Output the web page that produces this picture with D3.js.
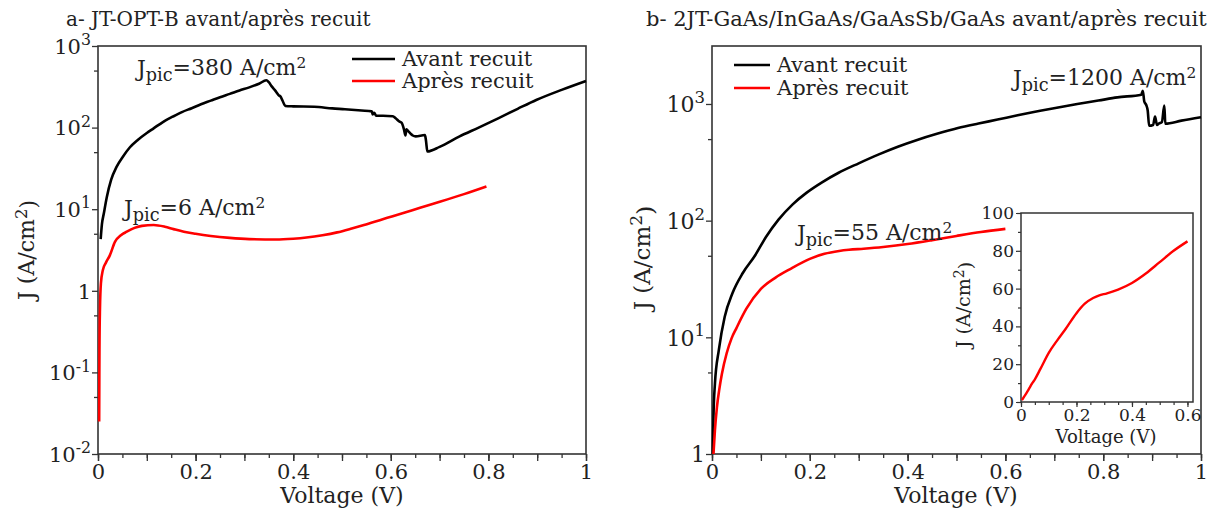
<!DOCTYPE html>
<html><head><meta charset="utf-8">
<script src="https://cdn.jsdelivr.net/npm/d3@7"></script>
<style>
body{margin:0;background:#fff;}
svg text{font-family:"DejaVu Serif",serif;fill:#222;}
</style></head>
<body><svg id="c" width="1223" height="512"></svg>
<script>
// ---------- data ----------
const xTicks = [0, 0.2, 0.4, 0.6, 0.8, 1];
const xTickLabels = ["0", "0.2", "0.4", "0.6", "0.8", "1"];
const yTicksA = [1e-2, 1e-1, 1, 1e1, 1e2, 1e3];
const yTickLabelsA = [["10","-2"], ["10","-1"], ["1",""], ["10","1"], ["10","2"], ["10","3"]];
const yTicksB = [1, 1e1, 1e2, 1e3];
const yTickLabelsB = [["1",""], ["10","1"], ["10","2"], ["10","3"]];
const insetXTicks = [0, 0.2, 0.4, 0.6];
const insetXTickLabels = ["0", "0.2", "0.4", "0.6"];
const insetYTicks = [0, 20, 40, 60, 80, 100];

// panel a - avant recuit
const avantV_a = [0.0055,0.008,0.012,0.018,0.027,0.038,0.051,0.065,0.082,0.1,0.114,0.133,0.153,0.172,0.192,0.211,0.231,0.25,0.27,0.29,0.31,0.33,0.345,0.35,0.356,0.362,0.366,0.37,0.374,0.378,0.384,0.40,0.443,0.48,0.506,0.54,0.561,0.563,0.566,0.57,0.584,0.604,0.61,0.618,0.622,0.627,0.63,0.632,0.636,0.64,0.645,0.651,0.67,0.672,0.675,0.70,0.741,0.78,0.82,0.86,0.898,0.95,1.0];
const avantJ_a = [4.3,6.5,8.9,14,23,33,44,57,71,86,98,117,136,155,173,193,214,236,259,285,311,345,380,360,320,290,270,250,240,215,184,182,180,172,168,162,158,145,152,140,140,138,130,118,115,95,80,95,90,85,80,78,81,70,51,58,78,100,130,170,218,290,373];
// panel a - après recuit
const apresV_a = [0.0024,0.0027,0.003,0.004,0.006,0.01,0.016,0.024,0.035,0.047,0.059,0.075,0.09,0.114,0.137,0.155,0.176,0.2,0.231,0.27,0.31,0.365,0.4,0.427,0.46,0.49,0.52,0.545,0.585,0.624,0.66,0.702,0.75,0.796];
const apresJ_a = [0.025,0.074,0.19,0.59,1.24,1.8,2.2,2.7,4.0,4.8,5.3,5.9,6.25,6.4,6.1,5.7,5.3,5.0,4.7,4.45,4.3,4.25,4.35,4.5,4.8,5.2,5.8,6.4,7.6,8.9,10.4,12.4,15.3,19];
// panel b - avant recuit
const avantV_b = [0.0016,0.003,0.006,0.014,0.026,0.042,0.063,0.087,0.11,0.136,0.165,0.193,0.225,0.258,0.3,0.34,0.38,0.421,0.46,0.503,0.545,0.584,0.625,0.666,0.705,0.747,0.79,0.829,0.878,0.881,0.884,0.888,0.891,0.894,0.902,0.906,0.91,0.914,0.92,0.925,0.927,0.96,1.0];
const avantJ_b = [1,2.1,4,7.8,15,24,35.6,49.5,72,102,138,173,213,256,310,368,430,494,555,622,680,735,800,865,930,1000,1070,1140,1202,1300,1050,980,880,650,660,780,660,680,700,968,678,720,769];
// panel b - après recuit (also inset)
const apresV_b = [0.003,0.006,0.01,0.015,0.02,0.03,0.04,0.05,0.07,0.1,0.13,0.16,0.2,0.23,0.26,0.28,0.31,0.35,0.4,0.45,0.5,0.55,0.6];
const apresJ_b = [1,1.6,2.5,3.6,4.8,7.3,9.8,12,17.5,26,32.5,38.5,47,52,55,56.3,57.5,59.5,63,68,74,80,85];

// ---------- drawing ----------
const svg = d3.select("#c");
svg.append("rect").attr("width",1223).attr("height",512).attr("fill","#fff");
const AX = "#333";

function zip(v, j){ return v.map((d,i)=>[d, j[i]]); }

function logPanel(cfg){
  const x = d3.scaleLinear().domain([0,1]).range([cfg.x0, cfg.x1]);
  const y = d3.scaleLog().domain(cfg.yDomain).range([cfg.y1, cfg.y0]);
  const g = svg.append("g");
  const minorX = d3.range(0, 1.0001, 0.05).map(d=>+d.toFixed(2));
  g.append("g").attr("transform",`translate(0,${cfg.y1})`)
    .call(d3.axisBottom(x).tickValues(minorX).tickSize(4).tickFormat("").tickSizeOuter(0))
    .call(s=>s.select(".domain").remove());
  g.append("g").attr("transform",`translate(0,${cfg.y1})`)
    .call(d3.axisBottom(x).tickValues(d3.range(0,1.0001,0.1).map(d=>+d.toFixed(1))).tickSize(7).tickFormat("").tickSizeOuter(0))
    .call(s=>s.select(".domain").remove());
  const xa = g.append("g").attr("transform",`translate(0,${cfg.y1})`)
    .call(d3.axisBottom(x).tickValues(xTicks).tickSize(7).tickPadding(3).tickFormat((d,i)=>xTickLabels[i]).tickSizeOuter(0));
  xa.select(".domain").remove();
  xa.selectAll("text").attr("font-size",cfg.xFont).attr("fill","#222").attr("font-family","DejaVu Serif");
  g.append("g").attr("transform",`translate(${cfg.x0},0)`)
    .call(d3.axisLeft(y).tickValues(cfg.minorY).tickSize(4).tickFormat("").tickSizeOuter(0))
    .call(s=>s.select(".domain").remove());
  const ya = g.append("g").attr("transform",`translate(${cfg.x0},0)`)
    .call(d3.axisLeft(y).tickValues(cfg.yTicks).tickSize(6).tickPadding(2).tickFormat("").tickSizeOuter(0));
  ya.select(".domain").remove();
  ya.selectAll(".tick").each(function(d,i){
    const lab = cfg.yLabels[i];
    const t = d3.select(this).append("text").attr("x",-7).attr("dy","0.35em")
      .attr("text-anchor","end").attr("font-size",cfg.yFont).attr("fill","#222");
    t.append("tspan").text(lab[0]);
    if(lab[1]) t.append("tspan").attr("dy","-0.55em").attr("font-size",cfg.yFont*0.75).text(lab[1]);
  });
  g.selectAll(".tick line").attr("stroke",AX).attr("stroke-width",1.3);
  g.append("rect").attr("x",cfg.x0).attr("y",cfg.y0).attr("width",cfg.x1-cfg.x0).attr("height",cfg.y1-cfg.y0)
    .attr("fill","none").attr("stroke",AX).attr("stroke-width",1.6);
  const line = d3.line().curve(d3.curveMonotoneX).x(d=>x(d[0])).y(d=>y(d[1]));
  g.append("path").datum(zip(cfg.blackV,cfg.blackJ)).attr("d",line).attr("fill","none").attr("stroke","#000").attr("stroke-width",2.6).attr("stroke-linejoin","round");
  g.append("path").datum(zip(cfg.redV,cfg.redJ)).attr("d",line).attr("fill","none").attr("stroke","#f00").attr("stroke-width",2.6).attr("stroke-linejoin","round");
  return {x,y,g};
}

logPanel({x0:98,x1:586,y0:46,y1:454,yDomain:[1e-2,1e3],yTicks:yTicksA,yLabels:yTickLabelsA,
  minorY:[5e-2,5e-1,5,50,500],yFont:21,xFont:21,
  blackV:avantV_a,blackJ:avantJ_a,redV:apresV_a,redJ:apresJ_a});
logPanel({x0:712,x1:1201,y0:46,y1:454,yDomain:[1,3140],yTicks:yTicksB,yLabels:yTickLabelsB,
  minorY:[5,50,500],yFont:22,xFont:21,
  blackV:avantV_b,blackJ:avantJ_b,redV:apresV_b,redJ:apresJ_b});

function txt(x,y,s,size,anchor){ return svg.append("text").attr("x",x).attr("y",y).attr("font-size",size).attr("text-anchor",anchor||"start").text(s); }
function jpic(x,y,val,size){
  const t = svg.append("text").attr("x",x).attr("y",y).attr("font-size",size);
  t.append("tspan").text("J");
  t.append("tspan").attr("dy","0.3em").attr("font-size",size*0.8).text("pic");
  t.append("tspan").attr("dy","-0.3em").text("=" + val + " A/cm");
  t.append("tspan").attr("dy","-0.45em").attr("font-size",size*0.7).text("2");
}
function yTitle(cx,cy,size){
  const t = svg.append("text").attr("transform",`translate(${cx},${cy}) rotate(-90)`).attr("text-anchor","middle").attr("font-size",size);
  t.append("tspan").text("J (A/cm");
  t.append("tspan").attr("dy","-0.45em").attr("font-size",size*0.75).text("2");
  t.append("tspan").attr("dy","0.45em").text(")");
}
function legend(x,y,size,gap,len){
  svg.append("line").attr("x1",x).attr("x2",x+len).attr("y1",y).attr("y2",y).attr("stroke","#000").attr("stroke-width",2.6);
  svg.append("line").attr("x1",x).attr("x2",x+len).attr("y1",y+gap).attr("y2",y+gap).attr("stroke","#f00").attr("stroke-width",2.6);
  txt(x+len+7,y+7,"Avant recuit",size);
  txt(x+len+7,y+gap+7,"Après recuit",size);
}

txt(66,26,"a- JT-OPT-B avant/après recuit",20);
txt(646,26,"b- 2JT-GaAs/InGaAs/GaAsSb/GaAs avant/après recuit",21);
jpic(137,76,"380",22);
jpic(124,216,"6",22);
jpic(1013,86,"1200",22);
jpic(797,241,"55",22);
legend(352,59,21,22,43);
legend(734,65,21,23,36);
yTitle(34,250,22);
yTitle(650,258,23);
txt(342,503,"Voltage (V)",22,"middle");
txt(956,503,"Voltage (V)",22,"middle");

// ---------- inset ----------
const ix = d3.scaleLinear().domain([0,0.62]).range([1021,1193]);
const iy = d3.scaleLinear().domain([0,100]).range([402,213]);
const ig = svg.append("g");
ig.append("rect").attr("x",1021).attr("y",213).attr("width",172).attr("height",189).attr("fill","#fff");
ig.append("g").attr("transform","translate(0,402)")
  .call(d3.axisBottom(ix).tickValues(d3.range(0,0.62,0.05).map(d=>+d.toFixed(2))).tickSize(3).tickFormat("").tickSizeOuter(0))
  .call(s=>s.select(".domain").remove());
const ixa = ig.append("g").attr("transform","translate(0,402)")
  .call(d3.axisBottom(ix).tickValues(insetXTicks).tickSize(5).tickPadding(2).tickFormat((d,i)=>insetXTickLabels[i]).tickSizeOuter(0));
ixa.select(".domain").remove();
ixa.selectAll("text").attr("font-size",17).attr("fill","#222").attr("font-family","DejaVu Serif");
ig.append("g").attr("transform","translate(1021,0)")
  .call(d3.axisLeft(iy).tickValues(d3.range(10,100,20)).tickSize(3).tickFormat("").tickSizeOuter(0))
  .call(s=>s.select(".domain").remove());
const iya = ig.append("g").attr("transform","translate(1021,0)")
  .call(d3.axisLeft(iy).tickValues(insetYTicks).tickSize(5).tickPadding(2).tickFormat(d3.format("d")).tickSizeOuter(0));
iya.select(".domain").remove();
iya.selectAll("text").attr("font-size",17).attr("fill","#222").attr("font-family","DejaVu Serif");
ig.selectAll(".tick line").attr("stroke",AX).attr("stroke-width",1.2);
ig.append("rect").attr("x",1021).attr("y",213).attr("width",172).attr("height",189).attr("fill","none").attr("stroke",AX).attr("stroke-width",1.5);
ig.append("path").datum(zip(apresV_b,apresJ_b))
  .attr("d",d3.line().curve(d3.curveMonotoneX).x(d=>ix(d[0])).y(d=>iy(d[1]))).attr("fill","none").attr("stroke","#f00").attr("stroke-width",2.4);
const it = svg.append("text").attr("transform","translate(970,305) rotate(-90)").attr("text-anchor","middle").attr("font-size",19);
it.append("tspan").text("J (A/cm");
it.append("tspan").attr("dy","-0.45em").attr("font-size",14).text("2");
it.append("tspan").attr("dy","0.45em").text(")");
txt(1106,443,"Voltage (V)",18,"middle");
</script></body></html>
